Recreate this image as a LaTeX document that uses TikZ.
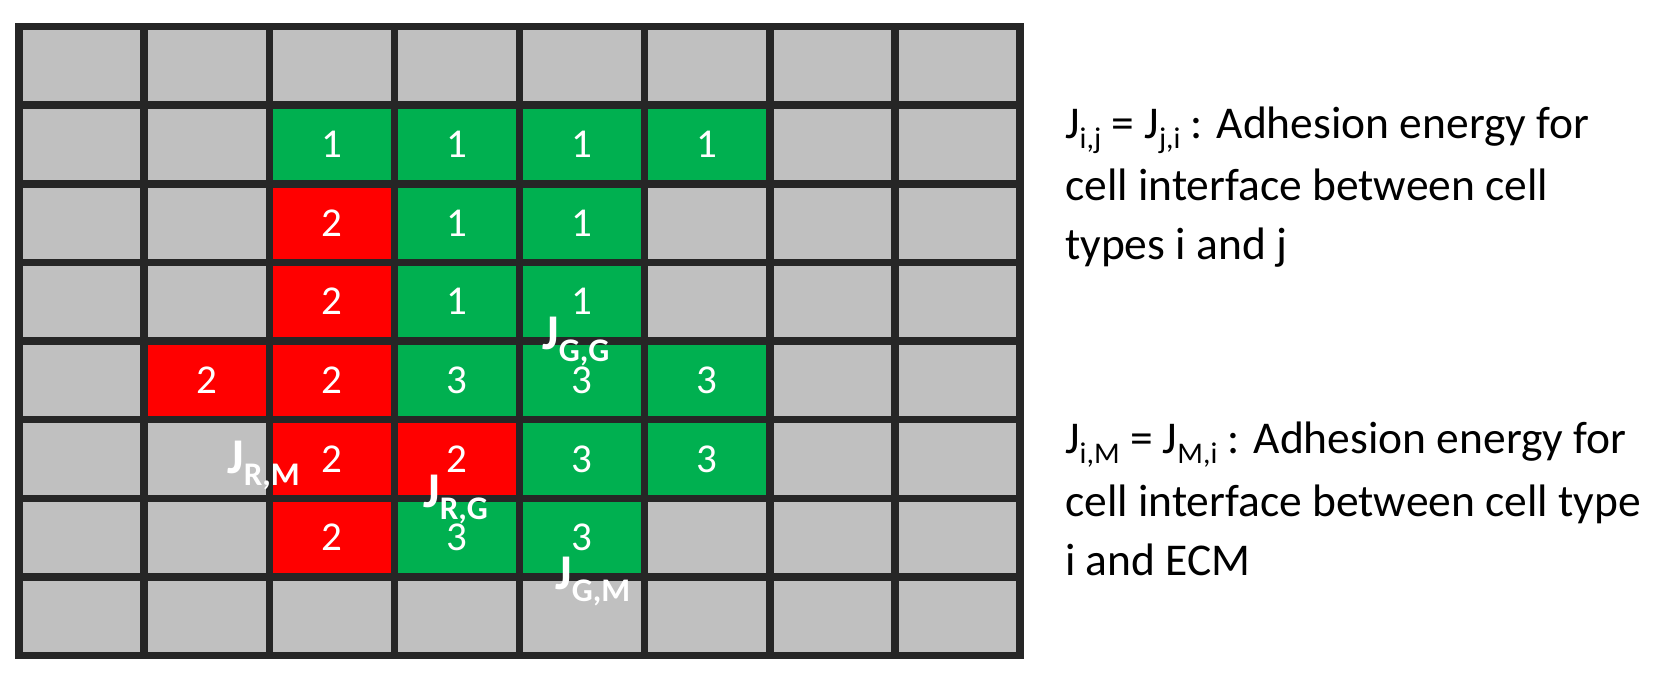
\documentclass[tikz,border=0pt]{standalone}
\usepackage{fontspec}
\setmainfont{Carlito}
\definecolor{cgray}{HTML}{C0C0C0}
\definecolor{cgreen}{HTML}{00B050}
\definecolor{cred}{HTML}{FF0000}
\definecolor{gline}{HTML}{262626}
\newcommand{\sbs}[1]{\raisebox{-10pt}{\fontsize{30}{30}\selectfont #1}}
\newcommand{\jlab}[1]{\bfseries\fontsize{50}{50}\selectfont J\raisebox{-12pt}{\fontsize{33}{33}\selectfont #1}}
\begin{document}
\begin{tikzpicture}[x=1pt,y=-1pt,
  digit/.style={text=white,font=\fontsize{41}{41}\selectfont,inner sep=0},
  jlabel/.style={text=white,anchor=base west,inner sep=0},
  desc/.style={anchor=base west,inner sep=0,font=\fontsize{45.5}{50}\selectfont},
  gridline/.style={draw=gline,line width=7.5pt,line cap=rect}]
\useasboundingbox[fill=white] (0,0) rectangle (1678,675);
\fill[cgray] (19,26.5) rectangle (1020,655.5);
\foreach \c/\r/\col/\n in {3/2/cgreen/1,4/2/cgreen/1,5/2/cgreen/1,6/2/cgreen/1,
  3/3/cred/2,4/3/cgreen/1,5/3/cgreen/1,
  3/4/cred/2,4/4/cgreen/1,5/4/cgreen/1,
  2/5/cred/2,3/5/cred/2,4/5/cgreen/3,5/5/cgreen/3,6/5/cgreen/3,
  3/6/cred/2,4/6/cred/2,5/6/cgreen/3,6/6/cgreen/3,
  3/7/cred/2,4/7/cgreen/3,5/7/cgreen/3}{
  \fill[\col] ({19+125.125*(\c-1)},{26.5+78.625*(\r-1)}) rectangle ++(125.125,78.625);
  \node[digit] (d\c\r) at ({19+125.125*(\c-0.5)},{26.5+78.625*(\r-0.5)}) {\n};
}
\foreach \i in {0,...,8}{
  \draw[gridline] ({19+125.125*\i},26.5) -- ({19+125.125*\i},655.5);
  \draw[gridline] (19,{26.5+78.625*\i}) -- (1020,{26.5+78.625*\i});
}
\node[jlabel] (jrm) at (227,473) {\jlab{R,M}};
\node[jlabel] (jrg) at (423,507.5) {\jlab{R,G}};
\node[jlabel] (jgg) at (542,349) {\jlab{G,G}};
\node[jlabel] (jgm) at (555,589.5) {\jlab{G,M}};
\node[desc] (a1) at (1065,138) {J\sbs{i,j} = J\sbs{j,i} : Adhesion energy for};
\node[desc] (a2) at (1065,200) {cell interface between cell};
\node[desc] (a3) at (1065,259) {types i and j};
\node[desc] (b1) at (1065,453) {J\sbs{i,M} = J\sbs{M,i} : Adhesion energy for};
\node[desc] (b2) at (1065,516) {cell interface between cell type};
\node[desc] (b3) at (1065,575) {i and ECM};
\end{tikzpicture}
\end{document}
